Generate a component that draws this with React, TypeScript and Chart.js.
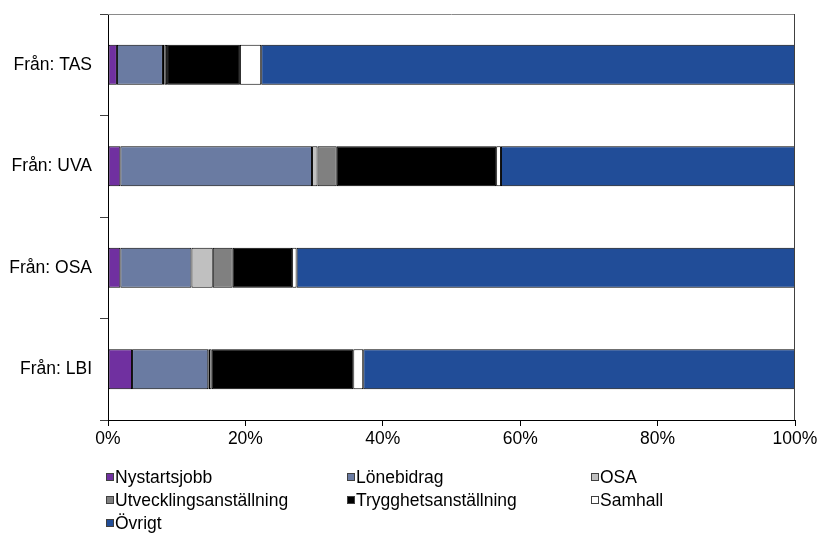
import React, { useEffect, useRef } from "react";
import { Chart, registerables } from "chart.js";

Chart.register(...registerables);

const categories = ["Från: TAS", "Från: UVA", "Från: OSA", "Från: LBI"];
const nystartsjobb = [1.3, 1.8, 1.8, 3.5];
const lonebidrag = [6.7, 27.9, 10.35, 11.1];
const osa = [0.25, 0.8, 3.1, 0.1];
const utveckling = [0.35, 2.8, 2.9, 0.4];
const trygghet = [10.6, 23.2, 8.65, 20.6];
const samhall = [3.1, 0.7, 0.65, 1.45];
const ovrigt = [77.7, 42.8, 72.55, 62.85];
const xTicks = [0, 20, 40, 60, 80, 100];

const seriesNames = [
  "Nystartsjobb",
  "Lönebidrag",
  "OSA",
  "Utvecklingsanställning",
  "Trygghetsanställning",
  "Samhall",
  "Övrigt",
];
const seriesValues = [nystartsjobb, lonebidrag, osa, utveckling, trygghet, samhall, ovrigt];
const seriesColors = ["#7030A0", "#6A7BA2", "#C0C0C0", "#808080", "#000000", "#FFFFFF", "#214D98"];

const FONT = "'Liberation Sans', Arial, sans-serif";

const framePlugin = {
  id: "frame",
  afterDatasetsDraw(chart: any) {
    const { ctx, chartArea } = chart;
    ctx.save();
    ctx.lineWidth = 1;
    ctx.strokeStyle = "#8a8a8a";
    ctx.beginPath();
    ctx.moveTo(chartArea.left, Math.round(chartArea.top) + 0.5);
    ctx.lineTo(chartArea.right, Math.round(chartArea.top) + 0.5);
    ctx.stroke();
    ctx.strokeStyle = "#404040";
    ctx.beginPath();
    ctx.moveTo(Math.round(chartArea.right) - 0.5, chartArea.top);
    ctx.lineTo(Math.round(chartArea.right) - 0.5, chartArea.bottom);
    ctx.stroke();
    ctx.restore();
  },
};

export default function App() {
  const canvasRef = useRef<HTMLCanvasElement | null>(null);

  useEffect(() => {
    if (!canvasRef.current) return;
    const chart = new Chart(canvasRef.current, {
      type: "bar",
      data: {
        labels: categories,
        datasets: seriesNames.map((name, i) => ({
          label: name,
          data: seriesValues[i],
          backgroundColor: seriesColors[i],
          borderColor: "#000000",
          borderWidth: 1,
          borderSkipped: false,
          barPercentage: 0.395,
          categoryPercentage: 1,
        })),
      },
      options: {
        indexAxis: "y",
        animation: false,
        responsive: true,
        maintainAspectRatio: false,
        layout: { padding: { top: 14, right: 24, left: 0, bottom: 0 } },
        plugins: {
          legend: { display: false },
          tooltip: { enabled: false },
        },
        scales: {
          x: {
            stacked: true,
            min: 0,
            max: 100,
            afterFit: (scale: any) => {
              scale.height = 113;
              scale.paddingLeft = 0;
              scale.paddingRight = 0;
            },
            afterBuildTicks: (scale: any) => {
              scale.ticks = xTicks.map((v) => ({ value: v }));
            },
            ticks: {
              color: "#000",
              font: { family: FONT, size: 17.5 },
              padding: 3,
              maxRotation: 0,
              callback: (v: any) => v + "%",
            },
            grid: {
              drawOnChartArea: false,
              drawTicks: true,
              tickLength: 6,
              color: "#000",
            },
            border: { display: true, color: "#000", width: 1 },
          },
          y: {
            stacked: true,
            afterFit: (scale: any) => {
              scale.width = 108;
              scale.paddingTop = 0;
              scale.paddingBottom = 0;
            },
            ticks: {
              color: "#000",
              font: { family: FONT, size: 17.5 },
              padding: 8,
            },
            grid: {
              offset: true,
              drawOnChartArea: false,
              drawTicks: true,
              tickLength: 8,
              color: "#404040",
            },
            border: { display: true, color: "#000", width: 1 },
          },
        },
      },
      plugins: [framePlugin],
    });
    return () => chart.destroy();
  }, []);

  const colX = [106, 347, 591];
  const rowY = [477, 500, 523];

  return (
    <div style={{ position: "fixed", left: 0, top: 0, width: 819, height: 533, background: "#fff" }}>
      <canvas ref={canvasRef} style={{ position: "absolute", left: 0, top: 0, width: 819, height: 533 }} />
      {seriesNames.map((name, i) => {
        const col = i % 3;
        const row = Math.floor(i / 3);
        return (
          <div
            key={name}
            style={{
              position: "absolute",
              left: colX[col],
              top: rowY[row] - 11,
              height: 22,
              display: "flex",
              alignItems: "center",
              fontFamily: FONT,
              fontSize: 17.5,
              color: "#000",
              whiteSpace: "nowrap",
            }}
          >
            <span
              style={{
                display: "inline-block",
                width: 8,
                height: 8,
                boxSizing: "border-box",
                background: seriesColors[i],
                border: "1px solid #404040",
                marginRight: 1,
              }}
            />
            <span>{name}</span>
          </div>
        );
      })}
    </div>
  );
}
